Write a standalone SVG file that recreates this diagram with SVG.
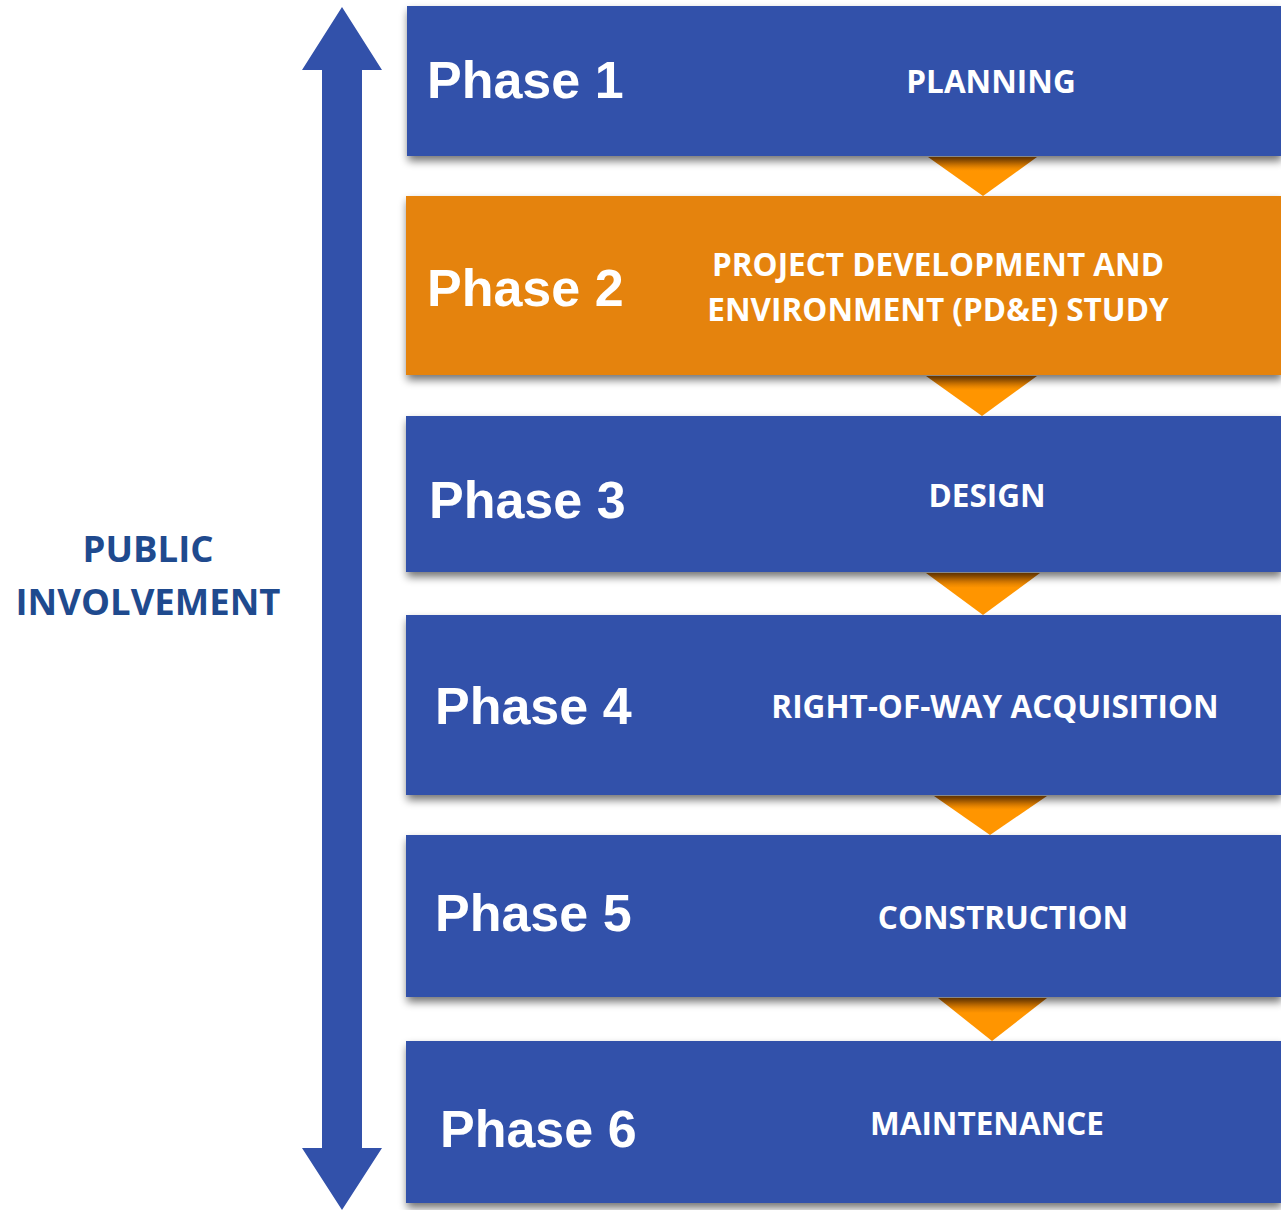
<svg xmlns="http://www.w3.org/2000/svg" width="1281" height="1210" viewBox="0 0 1281 1210">
<defs>
<filter id="sh" x="-5%" y="-10%" width="115%" height="130%">
<feGaussianBlur in="SourceAlpha" stdDeviation="4"/>
<feOffset dx="1" dy="5"/>
<feComponentTransfer><feFuncA type="linear" slope="0.55"/></feComponentTransfer>
<feMerge><feMergeNode/><feMergeNode in="SourceGraphic"/></feMerge>
</filter>
<linearGradient id="tg" x1="0" y1="0" x2="0" y2="1">
<stop offset="0" stop-color="#B35F00"/>
<stop offset="0.35" stop-color="#FF9500"/>
<stop offset="1" stop-color="#FF9500"/>
</linearGradient>
</defs>
<style>
.blue{fill:#3251AA}
.orange{fill:#E5830F}
.ph{font-family:"Liberation Sans",Arial,sans-serif;font-weight:bold;font-size:52px;fill:#fff}
.lb{font-family:"Open Sans",sans-serif;font-weight:bold;font-size:31.5px;fill:#fff;text-anchor:middle}
.pi{font-family:"Open Sans",sans-serif;font-weight:bold;font-size:36.5px;fill:#1F4A8E;text-anchor:middle}
.tri{fill:url(#tg)}
</style>
<g id="connectors">
<polygon class="tri" points="928,157 1037,157 983,196"/>
<polygon class="tri" points="926,376 1037,376 982,416"/>
<polygon class="tri" points="926,573 1040,573 983,615"/>
<polygon class="tri" points="934,796 1047,796 990,835"/>
<polygon class="tri" points="938,998 1047,998 992,1041"/>
</g>
<g id="public-involvement">
<polygon class="blue" points="342,7 382,70 362,70 362,1148 382,1148 342,1210 302,1148 322,1148 322,70 302,70"/>
<text class="pi" x="148" y="562">PUBLIC</text>
<text class="pi" x="148" y="615">INVOLVEMENT</text>
</g>
<g id="phase1">
<rect class="blue" x="407" y="6" width="874" height="150" filter="url(#sh)"/>
<text class="ph" x="427" y="98">Phase 1</text>
<text class="lb" x="991" y="93">PLANNING</text>
</g>
<g id="phase2">
<rect class="orange" x="406" y="196" width="875" height="179" filter="url(#sh)"/>
<text class="ph" x="427" y="306">Phase 2</text>
<text class="lb" x="938" y="276">PROJECT DEVELOPMENT AND</text>
<text class="lb" x="938" y="321">ENVIRONMENT (PD&amp;E) STUDY</text>
</g>
<g id="phase3">
<rect class="blue" x="406" y="416" width="875" height="156" filter="url(#sh)"/>
<text class="ph" x="429" y="518">Phase 3</text>
<text class="lb" x="987" y="507">DESIGN</text>
</g>
<g id="phase4">
<rect class="blue" x="406" y="615" width="875" height="180" filter="url(#sh)"/>
<text class="ph" x="435" y="724">Phase 4</text>
<text class="lb" x="995" y="718">RIGHT-OF-WAY ACQUISITION</text>
</g>
<g id="phase5">
<rect class="blue" x="406" y="835" width="875" height="162" filter="url(#sh)"/>
<text class="ph" x="435" y="931">Phase 5</text>
<text class="lb" x="1003" y="929">CONSTRUCTION</text>
</g>
<g id="phase6">
<rect class="blue" x="406" y="1041" width="875" height="162" filter="url(#sh)"/>
<text class="ph" x="440" y="1147">Phase 6</text>
<text class="lb" x="987" y="1135">MAINTENANCE</text>
</g>
</svg>
